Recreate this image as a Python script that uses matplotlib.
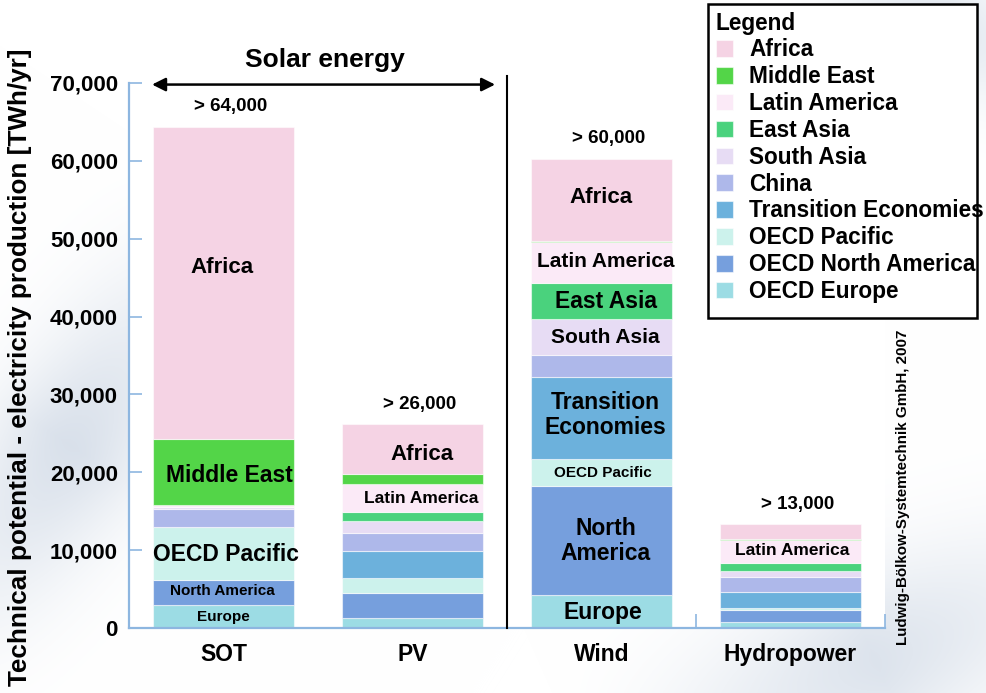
import numpy as np
import matplotlib
matplotlib.use("Agg")
import matplotlib.pyplot as plt
from matplotlib.patches import Rectangle
from matplotlib.ticker import FuncFormatter, FixedLocator

plt.rcParams['font.family'] = ['Liberation Sans', 'DejaVu Sans']
plt.rcParams['font.weight'] = 'bold'

# Technologies (x categories)
technologies = ["SOT", "PV", "Wind", "Hydropower"]

# Technical potential per region [TWh/yr], one value per technology
africa         = [40100, 6400, 10600, 1900]
middle_east    = [8550, 1250, 100, 100]
latin_america  = [150, 3600, 5300, 2950]
east_asia      = [0, 1150, 4600, 1000]
south_asia     = [350, 1550, 4600, 750]
china          = [2250, 2250, 2800, 1950]
transition     = [0, 3500, 10550, 2050]
oecd_pacific   = [6800, 1900, 3550, 250]
oecd_n_america = [3300, 3300, 14000, 1550]
oecd_europe    = [2900, 1250, 4200, 800]

total_labels = ["> 64,000", "> 26,000", "> 60,000", "> 13,000"]
y_ticks = [0, 10000, 20000, 30000, 40000, 50000, 60000, 70000]

# Legend order (top to bottom); stacking goes the other way round
regions = ["Africa", "Middle East", "Latin America", "East Asia", "South Asia",
           "China", "Transition Economies", "OECD Pacific",
           "OECD North America", "OECD Europe"]
series = [africa, middle_east, latin_america, east_asia, south_asia,
          china, transition, oecd_pacific, oecd_n_america, oecd_europe]
colors = ["#F5D3E4", "#53D548", "#FBEAF7", "#4AD27D", "#E7DCF4",
          "#AEB8EA", "#6CB1DC", "#CCF2EC", "#769FDD", "#9CDCE4"]

# Labels written inside segments: (technology index, region, text, size, fraction, dx)
segment_labels = [
    (0, "Africa", "Africa", 16, 0.55, -1),
    (0, "Middle East", "Middle East", 16.5, 0.45, 4),
    (0, "OECD Pacific", "OECD Pacific", 16.5, 0.48, 2),
    (0, "OECD North America", "North America", 11, 0.58, -1),
    (0, "OECD Europe", "Europe", 11, 0.50, 0),
    (1, "Africa", "Africa", 16, 0.40, 7),
    (1, "Latin America", "Latin America", 12.5, 0.49, 6),
    (2, "Africa", "Africa", 16, 0.53, 0),
    (2, "Latin America", "Latin America", 15, 0.52, 3),
    (2, "East Asia", "East Asia", 16.5, 0.48, 3),
    (2, "South Asia", "South Asia", 15, 0.48, 3),
    (2, "Transition Economies", "Transition\nEconomies", 16.5, 0.53, 3),
    (2, "OECD Pacific", "OECD Pacific", 11, 0.47, 1),
    (2, "OECD North America", "North\nAmerica", 16.5, 0.50, 3),
    (2, "OECD Europe", "Europe", 16.5, 0.48, 1),
    (3, "Latin America", "Latin America", 12.5, 0.55, 1),
]

W, H = 987, 693
fig = plt.figure(figsize=(W / 100, H / 100), dpi=100)

# Soft slide-style background streaks
yy, xx = np.mgrid[0:H, 0:W].astype(float)


def streak(x0, y0, x1, y1, width, strength):
    dx, dy = x1 - x0, y1 - y0
    length = np.hypot(dx, dy)
    d = np.abs((xx - x0) * dy - (yy - y0) * dx) / length
    t = ((xx - x0) * dx + (yy - y0) * dy) / length ** 2
    along = np.clip(1 - np.abs(t - 0.5) * 1.6, 0, 1)
    return strength * np.exp(-(d / width) ** 2) * along


field = (streak(-60, 640, 200, 250, 80, 1.0)
         + streak(650, 760, 1100, 560, 90, 0.9)
         + streak(820, -40, 1060, 90, 60, 0.8))
field = np.clip(field, 0, 1)
base = np.array([1.0, 1.0, 1.0])
tint = np.array([0.85, 0.88, 0.92])
img = base[None, None, :] * (1 - field[..., None]) + tint[None, None, :] * field[..., None]
bg = fig.add_axes([0, 0, 1, 1], zorder=-10)
bg.imshow(img, aspect='auto', interpolation='bilinear')
bg.axis('off')

ax = fig.add_axes([129 / W, 65 / H, 756 / W, 545 / H])
ax.set_facecolor('white')

x = np.arange(len(technologies))
bottom = np.zeros(len(technologies))
containers = {}
seg_bounds = {}
for name, vals, col in reversed(list(zip(regions, series, colors))):
    vals = np.array(vals, dtype=float)
    bc = ax.bar(x, vals, 0.75, bottom=bottom, color=col, label=name,
                edgecolor=(1, 1, 1, 0.55), linewidth=0.8, zorder=2)
    containers[name] = bc
    seg_bounds[name] = (bottom.copy(), bottom + vals)
    bottom = bottom + vals
totals = bottom

for ti, reg, txt, size, frac, dx in segment_labels:
    lo, hi = seg_bounds[reg]
    yv = lo[ti] + frac * (hi[ti] - lo[ti])
    ax.annotate(txt, xy=(x[ti], yv), xytext=(dx, 0), textcoords='offset points',
                ha='center', va='center', fontsize=size, fontweight='bold',
                color='black', zorder=5, linespacing=1.12)

for xi, tot, lab in zip(x, totals, total_labels):
    ax.annotate(lab, xy=(xi, tot), xytext=(5, 14.5), textcoords='offset points',
                ha='center', va='center', fontsize=13.5, fontweight='bold')

ax.set_xlim(-0.5, 3.5)
ax.set_ylim(0, 70000)

spine_col = "#8DB6E0"
for s in ["top", "right"]:
    ax.spines[s].set_visible(False)
for s in ["left", "bottom"]:
    ax.spines[s].set_color(spine_col)
    ax.spines[s].set_linewidth(1.6)

ax.set_yticks(y_ticks)
ax.yaxis.set_major_formatter(FuncFormatter(lambda v, p: f"{int(v):,}"))
ax.tick_params(axis='y', direction='in', length=9, width=1.2, color=spine_col,
               labelsize=16, pad=8)
ax.set_xticks(x)
ax.set_xticklabels(technologies)
ax.tick_params(axis='x', which='major', length=0, labelsize=16.5, pad=11)
ax.xaxis.set_minor_locator(FixedLocator(x[1:] + 0.5))
ax.tick_params(axis='x', which='minor', direction='in', length=10, width=1.2,
               color=spine_col)
for lab in ax.get_xticklabels() + ax.get_yticklabels():
    lab.set_fontweight('bold')

# Solar / other divider and the solar-energy span arrow
ax.axvline(1.5, ymin=0, ymax=1.013, color='black', lw=1.5, clip_on=False, zorder=3)
ax.annotate("", xy=(-0.378, 69800), xytext=(1.437, 69800),
            arrowprops=dict(arrowstyle='<|-|>', lw=1.8, color='black',
                            mutation_scale=20, shrinkA=0, shrinkB=0),
            annotation_clip=False)
ax.text(0.537, 72950, "Solar energy", ha='center', va='center',
        fontsize=19, fontweight='bold', clip_on=False)

fig.text(20 / W, 1 - 367 / H,
         "Technical potential - electricity production [TWh/yr]",
         rotation=90, ha='center', va='center', fontsize=18.8, fontweight='bold')

fig.text(903 / W, 1 - 487 / H, "Ludwig-Bölkow-Systemtechnik GmbH, 2007",
         rotation=90, ha='center', va='center', fontsize=10.9, fontweight='bold')

# Legend box
fig.patches.append(Rectangle((708 / W, 1 - 318 / H), 269 / W, 314 / H,
                             transform=fig.transFigure, facecolor='white',
                             edgecolor='black', linewidth=1.8, zorder=5))
handles = [containers[r] for r in regions]
leg = fig.legend(handles, regions, loc='upper left',
                 bbox_to_anchor=(711 / W, 1 - 7 / H), frameon=False,
                 title="Legend", alignment='left',
                 prop=dict(size=16.3, weight='bold'),
                 title_fontproperties=dict(size=16.3, weight='bold'),
                 handlelength=0.75, handleheight=0.75, handletextpad=0.75,
                 labelspacing=0.17, borderpad=0.2, borderaxespad=0)
leg.set_zorder(6)

fig.savefig("out.png", dpi=100)
